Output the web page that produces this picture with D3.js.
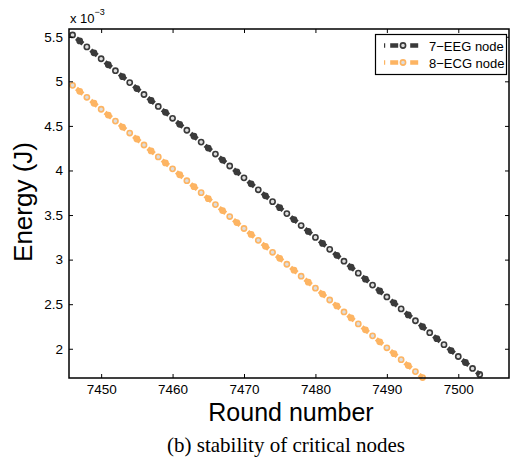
<!DOCTYPE html>
<html>
<head>
<meta charset="utf-8">
<script src="https://cdn.jsdelivr.net/npm/d3@7"></script>
<style>
  body { margin: 0; background: #fff; }
  text { font-family: "Liberation Sans", Arial, sans-serif; fill: #000; }
</style>
</head>
<body>
<div id="chart"></div>
<script>
const WIDTH = 510;
const HEIGHT = 459;

// datos (energia en unidades de 1e-3 J)
const eegStartRound = 7446;
const eegEnergy = [5.520, 5.453, 5.386, 5.320, 5.253, 5.186, 5.119, 5.052, 4.986, 4.919,
  4.852, 4.785, 4.718, 4.652, 4.585, 4.518, 4.451, 4.384, 4.318, 4.251,
  4.184, 4.117, 4.050, 3.984, 3.917, 3.850, 3.783, 3.716, 3.650, 3.583,
  3.516, 3.449, 3.382, 3.316, 3.249, 3.182, 3.115, 3.048, 2.982, 2.915,
  2.848, 2.781, 2.714, 2.648, 2.581, 2.514, 2.447, 2.380, 2.314, 2.247,
  2.180, 2.113, 2.046, 1.980, 1.913, 1.846, 1.779, 1.712];

const ecgStartRound = 7446;
const ecgEnergy = [4.955, 4.888, 4.821, 4.754, 4.687, 4.621, 4.554, 4.487, 4.420, 4.353,
  4.286, 4.219, 4.152, 4.085, 4.018, 3.952, 3.885, 3.818, 3.751, 3.684,
  3.617, 3.550, 3.483, 3.416, 3.349, 3.283, 3.216, 3.149, 3.082, 3.015,
  2.948, 2.881, 2.814, 2.747, 2.680, 2.614, 2.547, 2.480, 2.413, 2.346,
  2.279, 2.212, 2.145, 2.078, 2.011, 1.945, 1.878, 1.811, 1.744, 1.677];

const seriesNames = ["7\u2212EEG node", "8\u2212ECG node"];
const seriesColors = ["#3a3a3a", "#fdb462"];
const xTicks = [7450, 7460, 7470, 7480, 7490, 7500];
const yTicks = [2, 2.5, 3, 3.5, 4, 4.5, 5, 5.5];

const series = [
  { name: seriesNames[0], color: seriesColors[0], values: eegEnergy.map((v, i) => ({ r: eegStartRound + i, e: v })) },
  { name: seriesNames[1], color: seriesColors[1], values: ecgEnergy.map((v, i) => ({ r: ecgStartRound + i, e: v })) }
];

const margin = { left: 69, right: 1, top: 29, bottom: 81 };

const svg = d3.select("#chart").append("svg")
  .attr("width", WIDTH)
  .attr("height", HEIGHT);

const x = d3.scaleLinear()
  .domain([7445.5, 7507.1])
  .range([margin.left, WIDTH - margin.right]);

const y = d3.scaleLinear()
  .domain([1.672, 5.587])
  .range([HEIGHT - margin.bottom, margin.top]);

const plot = svg.append("g");

plot.append("clipPath").attr("id", "clip")
  .append("rect")
  .attr("x", margin.left).attr("y", margin.top - 4)
  .attr("width", WIDTH - margin.left - margin.right)
  .attr("height", HEIGHT - margin.top - margin.bottom + 8);

const line = d3.line().x(d => x(d.r)).y(d => y(d.e));

// marcadores primero, luego la linea gruesa a trazos que tapa uno de cada dos
series.forEach(s => {
  const g = plot.append("g").attr("clip-path", "url(#clip)");
  g.selectAll("circle")
    .data(s.values)
    .join("circle")
    .attr("cx", d => x(d.r))
    .attr("cy", d => y(d.e))
    .attr("r", 2.6)
    .attr("fill", "#ddd")
    .attr("stroke", s.color)
    .attr("stroke-width", 1.6);
  g.append("path")
    .datum(s.values)
    .attr("d", line)
    .attr("fill", "none")
    .attr("stroke", s.color)
    .attr("stroke-width", 4.5)
    .attr("stroke-dasharray", "8.5,10.1")
    .attr("stroke-dashoffset", -5.05);
});

// marco y ticks
const x0 = margin.left, x1 = WIDTH - margin.right, y0 = margin.top, y1 = HEIGHT - margin.bottom;
const tickLen = 4;

const axisB = d3.axisBottom(x).tickValues(xTicks).tickSizeInner(-tickLen).tickSizeOuter(0).tickPadding(6).tickFormat(d3.format("d"));
const axisT = d3.axisTop(x).tickValues(xTicks).tickSizeInner(-tickLen).tickSizeOuter(0).tickFormat("");
const axisL = d3.axisLeft(y).tickValues(yTicks).tickSizeInner(-tickLen).tickSizeOuter(0).tickPadding(6).tickFormat(d3.format("~g"));
const axisR = d3.axisRight(y).tickValues(yTicks).tickSizeInner(-tickLen).tickSizeOuter(0).tickFormat("");

[[axisB, `translate(0,${y1})`], [axisT, `translate(0,${y0})`],
 [axisL, `translate(${x0},0)`], [axisR, `translate(${x1},0)`]].forEach(([ax, t]) => {
  const g = svg.append("g").attr("transform", t).call(ax);
  g.select(".domain").remove();
  g.selectAll("line").attr("stroke", "#000").attr("stroke-width", 1);
  g.selectAll("text").attr("font-size", 13.5).attr("fill", "#000")
    .style("font-family", "Liberation Sans, Arial, sans-serif");
});

svg.append("rect")
  .attr("x", x0).attr("y", y0)
  .attr("width", x1 - x0).attr("height", y1 - y0)
  .attr("fill", "none")
  .attr("stroke", "#000")
  .attr("stroke-width", 1.5);

// factor de escala
const exp = svg.append("text").attr("x", 70).attr("y", 23).attr("font-size", 13);
exp.append("tspan").text("x 10");
exp.append("tspan").attr("dy", -8).attr("font-size", 9).text("\u22123");

// titulos de ejes
svg.append("text")
  .attr("x", 291).attr("y", 421)
  .attr("text-anchor", "middle")
  .attr("font-size", 25)
  .text("Round number");

svg.append("text")
  .attr("transform", "translate(32,202) rotate(-90)")
  .attr("text-anchor", "middle")
  .attr("font-size", 26)
  .text("Energy (J)");

svg.append("text")
  .attr("x", 286).attr("y", 452)
  .attr("text-anchor", "middle")
  .attr("font-size", 21)
  .style("font-family", "Liberation Serif, 'Times New Roman', serif")
  .text("(b) stability of critical nodes");

// leyenda
const legend = svg.append("g");
legend.append("rect")
  .attr("x", 375.5).attr("y", 34.5)
  .attr("width", 131).attr("height", 40)
  .attr("fill", "#fff")
  .attr("stroke", "#000")
  .attr("stroke-width", 1.2);

series.forEach((s, i) => {
  const ly = 45.5 + i * 17;
  const lg = legend.append("g");
  lg.append("line")
    .attr("x1", 384).attr("x2", 422)
    .attr("y1", ly).attr("y2", ly)
    .attr("stroke", s.color)
    .attr("stroke-width", 4.5)
    .attr("stroke-dasharray", "1.2,5,8,12,8,5,1.2");
  lg.append("circle")
    .attr("cx", 403).attr("cy", ly).attr("r", 2.6)
    .attr("fill", "#ddd").attr("stroke", s.color).attr("stroke-width", 1.6);
  lg.append("text")
    .attr("x", 429).attr("y", ly + 5)
    .attr("font-size", 13)
    .text(s.name);
});
</script>
</body>
</html>
